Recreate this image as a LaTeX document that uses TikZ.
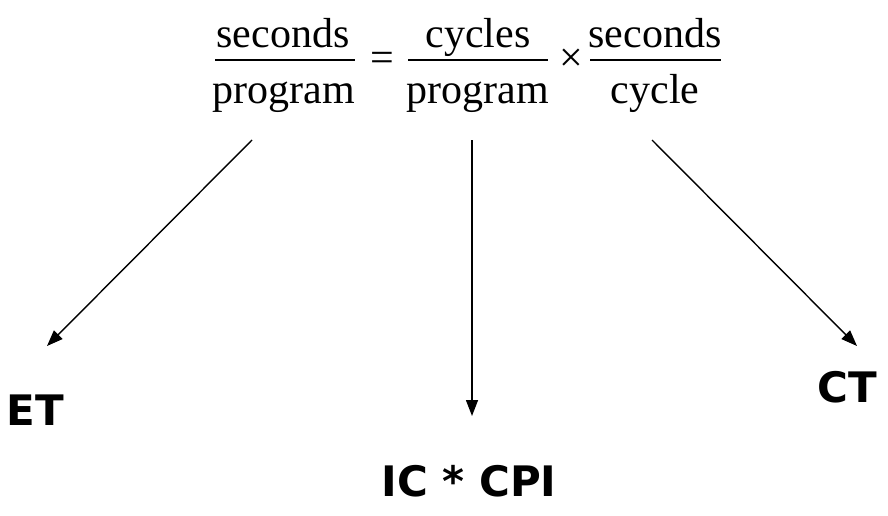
\documentclass[tikz,border=0pt]{standalone}
\usepackage{fontspec}
\setmainfont{Liberation Serif}
\newfontfamily\lblfont{DejaVu Sans}
\usetikzlibrary{arrows.meta}
\begin{document}
\begin{tikzpicture}[x=1pt,y=-1pt,
  eq/.style={anchor=base,inner sep=0pt,font=\fontsize{42}{48}\selectfont},
  lbl/.style={inner sep=0pt,font=\lblfont\bfseries\fontsize{42}{50}\selectfont},
  bar/.style={line width=2pt},
  arr/.style={line width=1.4pt,-{Triangle[length=16pt,width=12pt]}}]
\useasboundingbox (0,0) rectangle (888,516);
% equation
\node[eq] (n1) at (283,48) {seconds};
\node[eq] (d1) at (284,104) {program};
\draw[bar] (215,60) -- (355,60);
\node[eq] (eqs) at (382,72) {=};
\node[eq] (n2) at (478,48) {cycles};
\node[eq] (d2) at (478,104) {program};
\draw[bar] (408,60) -- (548,60);
\node[eq] (tms) at (571,72) {×};
\node[eq] (n3) at (655,48) {seconds};
\node[eq] (d3) at (655,104) {cycle};
\draw[bar] (590,60) -- (721,60);
% labels
\node[lbl] (et) at (35,410) {ET};
\node[lbl] (ic) at (469,481) {IC * CPI};
\node[lbl] (ct) at (847,387) {CT};
% arrow start points
\coordinate (s1) at (252,140);
\coordinate (s2) at (472,140);
\coordinate (s3) at (652,140);
\coordinate (e1) at (47,346);
\coordinate (e2) at (472,416);
\coordinate (e3) at (857,346);
\draw[arr] (s1) -- (e1);
\draw[arr] (s2) -- (e2);
\draw[arr] (s3) -- (e3);
\end{tikzpicture}
\end{document}
